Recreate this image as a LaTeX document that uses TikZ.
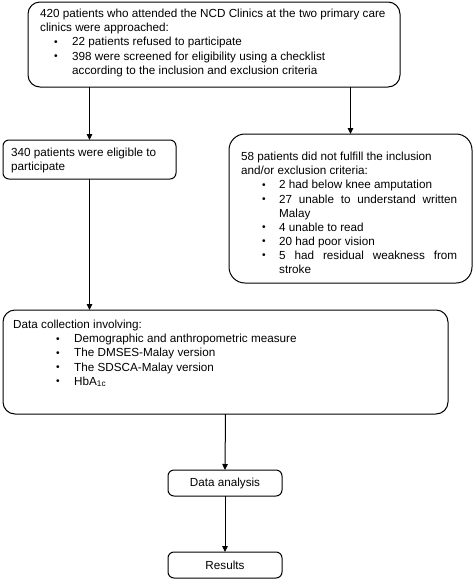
\documentclass[tikz,border=0pt]{standalone}
\usepackage{fontspec}
\setmainfont{Liberation Sans}
\usetikzlibrary{arrows.meta}
\newcommand\bl[2]{\hspace*{#1}\makebox[#2][l]{\raisebox{0.6pt}{\fontsize{10.2}{10}\selectfont\textbullet}}}
\newcommand\tp{\rule{0pt}{9pt}}
\begin{document}
\begin{tikzpicture}[x=1pt,y=-1pt,
 box/.style={draw, line width=1pt, anchor=north west, inner sep=0pt, outer sep=0pt},
 txt/.style={anchor=north west, inner sep=0pt, align=left, font=\fontsize{11.7}{14.1}\selectfont},
 ctxt/.style={inner sep=0pt, font=\fontsize{11.7}{14.1}\selectfont},
 arr/.style={draw, line width=1pt, -{Triangle[length=6pt,width=5.5pt]}}]
\useasboundingbox[fill=white] (0,0) rectangle (473,579);
\node[box, rounded corners=12pt, minimum width=372pt, minimum height=85pt] (top) at (28,2) {};
\node[box, rounded corners=6pt, minimum width=173pt, minimum height=39pt] (box2) at (3,140) {};
\node[box, rounded corners=16pt, minimum width=243pt, minimum height=149pt] (rbox) at (229,134) {};
\node[box, rounded corners=12pt, minimum width=445pt, minimum height=104pt] (data) at (3,310) {};
\node[box, rounded corners=6pt, minimum width=114pt, minimum height=26pt] (ana) at (168,470) {};
\node[box, rounded corners=6pt, minimum width=114pt, minimum height=26pt] (res) at (168,552) {};

\node[txt] (t1) at (40,8.5) {\tp420 patients who attended the NCD Clinics at the two primary care\\
clinics were approached:\\
\bl{14pt}{18pt}22 patients refused to participate\\
\bl{14pt}{18pt}398 were screened for eligibility using a checklist\\
\hspace*{32pt}according to the inclusion and exclusion criteria};

\node[txt] (t2) at (11,147.5) {\tp340 patients were eligible to\\participate};

\node[txt] (t3) at (241,151.5) {\tp58 patients did not fulfill the inclusion\\
and/or exclusion criteria:\\
\bl{21pt}{17pt}2 had below knee amputation\\
\bl{21pt}{17pt}\makebox[178pt][s]{27 unable to understand written}\\
\hspace*{38pt}Malay\\
\bl{21pt}{17pt}4 unable to read\\
\bl{21pt}{17pt}20 had poor vision\\
\bl{21pt}{17pt}\makebox[178pt][s]{5 had residual weakness from}\\
\hspace*{38pt}stroke};

\node[txt] (t4) at (13,319.5) {\tp Data collection involving:\\
\bl{43pt}{18pt}Demographic and anthropometric measure\\
\bl{43pt}{18pt}The DMSES-Malay version\\
\bl{43pt}{18pt}The SDSCA-Malay version\\
\bl{43pt}{18pt}HbA\textsubscript{1c}};

\node[ctxt] (t5) at (ana.center) {Data analysis};
\node[ctxt] (t6) at (res.center) {Results};

\draw[arr] (top.south -| box2.north) -- (box2.north);
\draw[arr] (top.south -| rbox.north) -- (rbox.north);
\draw[arr] (box2.south) -- (box2.south |- data.north);
\draw[arr] (data.south) -- (ana.north);
\draw[arr] (ana.south) -- (res.north);
\end{tikzpicture}
\end{document}
